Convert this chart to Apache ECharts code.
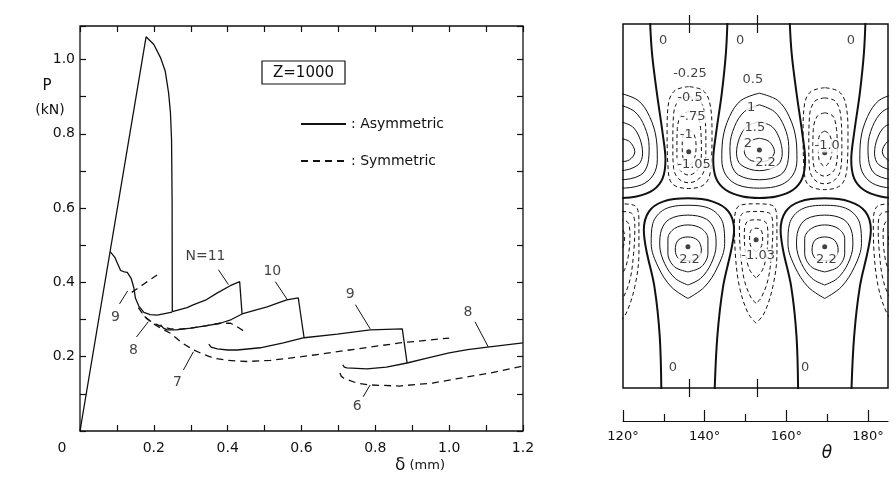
<!DOCTYPE html>
<html>
<head>
<meta charset="utf-8">
<script src="https://cdn.jsdelivr.net/npm/echarts@6/dist/echarts.min.js"></script>
<style>
html,body{margin:0;padding:0;background:#fff;}
#chart{width:896px;height:478px;}
</style>
</head>
<body>
<div id="chart"></div>
<script>
var chart = echarts.init(document.getElementById("chart"));
var INK = "#111";
var FONT = "DejaVu Sans";

// ---------- left panel: P (kN) against delta (mm) ----------
var deltaLabels = [0, 0.2, 0.4, 0.6, 0.8, 1.0, 1.2];
var loadLabels = [0.2, 0.4, 0.6, 0.8, 1.0];

// asymmetric (solid)
var asymPeak = [[0,0],[0.179,1.061],[0.2,1.04],[0.218,1.005],[0.231,0.968],[0.24,0.91],[0.245,0.857],[0.248,0.784],[0.2495,0.62],[0.25,0.321],
    [0.29,0.332],[0.308,0.34],[0.34,0.352],[0.371,0.371],[0.407,0.391],[0.4325,0.402],[0.439,0.315]];
var asymWiggle = [[0.0817,0.483],[0.087,0.481],[0.094,0.468],[0.101,0.452],[0.11,0.432],[0.12,0.428],[0.128,0.427],[0.1385,0.411],
    [0.146,0.385],[0.15,0.358],[0.159,0.337],[0.173,0.319],[0.19,0.313],[0.209,0.312],[0.2495,0.32]];
var asymN10 = [[0.218,0.286],[0.226,0.277],[0.236,0.272],[0.26,0.272],[0.30,0.277],[0.34,0.283],[0.38,0.29],[0.41,0.3],[0.439,0.315],
    [0.475,0.325],[0.507,0.334],[0.535,0.344],[0.56,0.353],[0.5913,0.358],[0.607,0.251]];
var asymN9 = [[0.349,0.234],[0.355,0.226],[0.372,0.221],[0.4,0.218],[0.426,0.218],[0.488,0.224],[0.551,0.237],[0.607,0.251],
    [0.697,0.261],[0.786,0.272],[0.873,0.275],[0.886,0.183]];
var asymN8 = [[0.712,0.178],[0.716,0.172],[0.723,0.17],[0.777,0.167],[0.83,0.172],[0.886,0.183],[0.94,0.196],[1.0,0.21],
    [1.05,0.219],[1.104,0.226],[1.2,0.237]];

// symmetric (dashed)
var symN9 = [[0.14,0.373],[0.175,0.397],[0.209,0.42]];
var symN8 = [[0.158,0.332],[0.168,0.318],[0.18,0.303],[0.197,0.292],[0.217,0.283],[0.245,0.275],[0.27,0.274],[0.30,0.277],
    [0.34,0.283],[0.38,0.29],[0.408,0.29],[0.43,0.278],[0.4525,0.263]];
var symN7 = [[0.175,0.308],[0.2,0.288],[0.222,0.275],[0.245,0.263],[0.275,0.238],[0.308,0.218],[0.335,0.206],[0.362,0.196],
    [0.40,0.19],[0.4525,0.187],[0.515,0.19],[0.60,0.2],[0.73,0.218],[0.866,0.237],[1.0,0.25]];
var symN6 = [[0.704,0.156],[0.708,0.147],[0.715,0.142],[0.75,0.129],[0.785,0.124],[0.865,0.121],[0.955,0.129],[1.0,0.137],
    [1.11,0.156],[1.2,0.175]];

// curve numbers and their leader lines
var curveNotes = [["N=11",0.34,0.469],["10",0.521,0.429],["9",0.732,0.367],["8",1.051,0.318],
    ["7",0.264,0.132],["6",0.751,0.065],["9",0.096,0.307],["8",0.145,0.218]];
var noteLeaders = [[[0.375,0.434],[0.402,0.394]],[[0.529,0.402],[0.562,0.353]],[[0.746,0.34],[0.786,0.275]],
    [[1.07,0.294],[1.106,0.226]],[[0.28,0.164],[0.307,0.213]],[[0.767,0.092],[0.786,0.124]],
    [[0.107,0.342],[0.129,0.377]],[[0.153,0.253],[0.185,0.294]]];

// ---------- right panel: contour map over theta ----------
var thetaLabels = [120, 140, 160, 180];
var thetaMinor = [130, 150, 170];
var frameMarks = [136.2, 152.8];

// lobe centres [theta, depth], depth 0 = top of frame, 100 = bottom
var upperPosCenters = [[119.2,34.6],[153.4,34.6],[187.2,34.6]];
var lowerPosCenters = [[135.9,61.2],[169.4,61.2]];
var upperNegCenters = [[136.1,35.1],[169.4,35.4]];
var lowerNegCenters = [[118.8,59.3],[152.6,59.3],[186.6,59.3]];
var peakDots = [[153.4,34.6],[136.1,35.1],[169.4,35.4],[135.9,61.2],[169.4,61.2],[152.6,59.3]];

// contour outlines read around each lobe centre
var upperPosZero = [[-7.8,-36],[-8.2,-26.6],[-9.2,-15.6],[-10.6,-4.6],[-11.3,2.7],[-10.6,7.8],[-8.2,11],[-4.1,12.8],[0,13.2],
    [4.1,12.8],[8.2,11],[10.5,7.8],[11.2,2.7],[10.5,-4.6],[9.1,-15.6],[7.9,-26.6],[7.4,-36]];
var upperPosLevels = [
    [[0,-15.6],[-4.5,-13.6],[-7.3,-9.2],[-9,-2.7],[-9.2,2.7],[-8.2,6.9],[-5.3,9.6],[0,10.5],[5.3,9.6],[8.2,6.9],[9.2,2.7],[9,-2.7],[7.3,-9.2],[4.5,-13.6],[0,-15.6]],
    [[0,-12.4],[-3.7,-10.5],[-6.1,-6.4],[-7.2,-0.9],[-6.9,3.7],[-5.1,6.9],[0,8.2],[5.1,6.9],[6.9,3.7],[7.2,-0.9],[6.1,-6.4],[3.7,-10.5],[0,-12.4]],
    [[0,-7.8],[-3.1,-6.4],[-4.9,-3.2],[-5.6,0.9],[-4.5,4.1],[0,5.7],[4.5,4.1],[5.6,0.9],[4.9,-3.2],[3.1,-6.4],[0,-7.8]],
    [[0,-3.2],[-2.4,-2.3],[-3.7,0.5],[-2.4,2.7],[0,3.2],[2.4,2.7],[3.7,0.5],[2.4,-2.3],[0,-3.2]]
];
var lowerPosZero = [[-6.5,41],[-6.9,24.7],[-8.2,11],[-10.2,0.9],[-10.8,-4.6],[-9.6,-9.6],[-6.1,-12.4],[0,-13.3],[6.1,-12.4],
    [10,-9.6],[11.3,-4.6],[10.6,0.9],[8.6,11],[7.2,24.7],[6.5,41]];
var lowerPosLevels = [
    [[0,14.2],[-4.1,11],[-7.3,5.5],[-9,-0.9],[-8.6,-6.4],[-5.7,-10.3],[0,-11.4],[5.7,-10.3],[8.6,-6.4],[9,-0.9],[7.3,5.5],[4.1,11],[0,14.2]],
    [[0,10.5],[-3.1,8.7],[-5.7,4.6],[-6.9,-0.5],[-6.5,-4.6],[-4.5,-7.6],[0,-8.7],[4.5,-7.6],[6.5,-4.6],[6.9,-0.5],[5.7,4.6],[3.1,8.7],[0,10.5]],
    [[0,6.9],[-3.3,5.5],[-4.9,1.8],[-4.9,-2.3],[-3.3,-5],[0,-6],[3.3,-5],[4.9,-2.3],[4.9,1.8],[3.3,5.5],[0,6.9]],
    [[0,3.8],[-2.3,3.2],[-3.1,0.9],[-2.4,-1.8],[0,-2.7],[2.4,-1.8],[3.3,0.9],[2.3,3.2],[0,3.8]]
];
var upperNegLevels = [
    [[0,-17.9],[-3.3,-16.9],[-4.9,-13.7],[-5.3,-5.5],[-5.1,3.7],[-4.1,8.7],[0,10.1],[4.1,8.7],[5.5,3.7],[5.7,-5.5],[5.1,-13.7],[3.4,-16.9],[0,-17.9]],
    [[0,-15.1],[-2.4,-14.2],[-3.7,-10.5],[-3.9,-1.8],[-3.7,4.6],[-2.4,7.5],[0,8.5],[2.4,7.5],[3.9,4.6],[4.2,-1.8],[3.9,-10.5],[2.6,-14.2],[0,-15.1]],
    [[0,-11],[-1.8,-10.1],[-2.8,-6.4],[-2.9,0],[-2.4,4.6],[0,6.4],[2.4,4.6],[3.1,0],[2.9,-6.4],[2,-10.1],[0,-11]],
    [[0,-6],[-1.2,-5],[-1.6,-1.8],[-1.4,1.8],[0,3.7],[1.4,1.8],[1.8,-1.8],[1.2,-5],[0,-6]]
];
var lowerNegLevels = [
    [[0,22.9],[-2,20.1],[-4.1,12.8],[-5.1,3.7],[-5.3,-5.5],[-4.1,-9.4],[0,-9.9],[4.1,-9.4],[5.1,-5.5],[5.1,3.7],[4.1,12.8],[2,20.1],[0,22.9]],
    [[0,17.4],[-1.2,16],[-2.9,11],[-3.8,3.7],[-4.1,-3.7],[-3.3,-7.3],[0,-7.8],[3.3,-7.3],[4.1,-3.7],[3.8,3.7],[2.9,11],[1.2,16],[0,17.4]],
    [[0,10.5],[-1.6,8.2],[-2.6,3.7],[-2.9,-1.8],[-2.2,-5],[0,-5.5],[2.2,-5],[2.9,-1.8],[2.6,3.7],[1.6,8.2],[0,10.5]],
    [[0,3.2],[-1.2,2],[-1.6,-0.5],[-1.2,-2.7],[0,-3.2],[1.2,-2.7],[1.6,-0.5],[1.2,2],[0,3.2]]
];

var contourNotes = [["0",129.8,4.7],["0",148.7,4.7],["0",175.8,4.7],["0",132.2,94.5],["0",164.6,94.5],
    ["-0.25",136.4,13.5],["-0.5",136.4,20.3],["-.75",137.1,25.5],["-1",135.5,30.5],["-1.05",137.4,38.5],
    ["0.5",151.8,15.4],["1",151.4,22.9],["1.5",152.3,28.4],["2",150.6,33],["2.2",154.9,38.1],
    ["-1.0",170.0,33.5],["2.2",136.3,64.6],["-1.03",153.1,63.5],["2.2",169.8,64.6]];

// ---------- styles ----------
var solidStyle = {color: INK, width: 1.3};
var dashStyle = {color: INK, width: 1.3, type: [7, 5]};
var zeroStyle = {color: INK, width: 2};
var thinStyle = {color: INK, width: 1};
var negStyle = {color: INK, width: 1, type: [4, 3]};
var tickStyle = {color: INK, width: 1.2};
var labelText = {color: INK, fontFamily: FONT, fontSize: 14};

function isLabel(list, v) {
    for (var i = 0; i < list.length; i++) {
        if (Math.abs(list[i] - v) < 1e-6) return true;
    }
    return false;
}

function curve(name, data, style) {
    return {name: name, type: "line", xAxisIndex: 0, yAxisIndex: 0, symbol: "none", silent: true,
        itemStyle: {color: INK}, lineStyle: style, data: data};
}

function lobes(centers, shape, style) {
    var out = [];
    centers.forEach(function (c) {
        out.push({type: "line", xAxisIndex: 2, yAxisIndex: 2, symbol: "none", silent: true, smooth: 0.35,
            itemStyle: {color: INK}, lineStyle: style,
            data: shape.map(function (p) { return [c[0] + p[0], c[1] + p[1]]; })});
    });
    return out;
}

var series = [
    curve("Asymmetric", asymPeak, solidStyle),
    curve("Asymmetric", asymWiggle, solidStyle),
    curve("Asymmetric", asymN10, solidStyle),
    curve("Asymmetric", asymN9, solidStyle),
    curve("Asymmetric", asymN8, solidStyle),
    curve("Symmetric", symN9, dashStyle),
    curve("Symmetric", symN8, dashStyle),
    curve("Symmetric", symN7, dashStyle),
    curve("Symmetric", symN6, dashStyle)
];
noteLeaders.forEach(function (seg) {
    series.push({type: "line", xAxisIndex: 0, yAxisIndex: 0, symbol: "none", silent: true,
        itemStyle: {color: INK}, lineStyle: {color: INK, width: 1}, data: seg});
});
series.push({type: "scatter", xAxisIndex: 0, yAxisIndex: 0, symbolSize: 1, silent: true,
    itemStyle: {color: "rgba(0,0,0,0)"},
    label: {show: true, position: "inside", formatter: "{b}", color: INK, fontFamily: FONT, fontSize: 14},
    data: curveNotes.map(function (n) { return {name: n[0], value: [n[1], n[2]]}; })});

series = series.concat(lobes(upperPosCenters, upperPosZero, zeroStyle));
series = series.concat(lobes(lowerPosCenters, lowerPosZero, zeroStyle));
upperPosLevels.forEach(function (s) { series = series.concat(lobes(upperPosCenters, s, thinStyle)); });
lowerPosLevels.forEach(function (s) { series = series.concat(lobes(lowerPosCenters, s, thinStyle)); });
upperNegLevels.forEach(function (s) { series = series.concat(lobes(upperNegCenters, s, negStyle)); });
lowerNegLevels.forEach(function (s) { series = series.concat(lobes(lowerNegCenters, s, negStyle)); });

series.push({type: "scatter", xAxisIndex: 2, yAxisIndex: 2, symbolSize: 5, silent: true,
    itemStyle: {color: INK}, data: peakDots});
series.push({type: "scatter", xAxisIndex: 2, yAxisIndex: 2, symbolSize: 1, silent: true, z: 10,
    itemStyle: {color: "rgba(0,0,0,0)"},
    label: {show: true, position: "inside", formatter: "{b}", color: INK, fontFamily: FONT, fontSize: 13,
        backgroundColor: "#fff", padding: [0, 1]},
    data: contourNotes.map(function (n) { return {name: n[0], value: [n[1], n[2]]}; })});

function frameAxis(pos, inside) {
    return {type: "value", gridIndex: 1, position: pos, min: 120, max: 184.9,
        axisLine: {show: false}, splitLine: {show: false}, axisLabel: {show: false},
        axisTick: {show: true, inside: inside, length: 9, customValues: frameMarks, lineStyle: tickStyle}};
}

option = {
    backgroundColor: "#fff",
    animation: false,
    grid: [
        {left: 80, top: 26, width: 443, height: 405, show: true, borderColor: INK, borderWidth: 1.3, backgroundColor: "transparent"},
        {left: 623, top: 24, width: 265, height: 364, show: true, borderColor: INK, borderWidth: 1.5, backgroundColor: "transparent"},
        {left: 623, top: 420, width: 265, height: 1}
    ],
    legend: {
        data: ["Asymmetric", "Symmetric"],
        orient: "vertical", left: 295, top: 112,
        itemWidth: 45, itemHeight: 14, itemGap: 23,
        selectedMode: false,
        itemStyle: {opacity: 0},
        formatter: function (name) { return ": " + name; },
        textStyle: labelText
    },
    xAxis: [
        {type: "value", gridIndex: 0, position: "bottom", min: 0, max: 1.2, interval: 0.1,
            axisLine: {show: false, onZero: false}, splitLine: {show: false},
            axisTick: {show: true, inside: true, length: 6, lineStyle: tickStyle},
            axisLabel: {margin: 10, color: INK, fontFamily: FONT, fontSize: 14,
                formatter: function (v) {
                    var r = Math.round(v * 10) / 10;
                    if (!isLabel(deltaLabels, r)) return "";
                    if (r === 0) return "{z|0}";
                    return r.toFixed(1);
                },
                rich: {z: {padding: [0, 36, 0, 0], color: INK, fontFamily: FONT, fontSize: 14}}}},
        {type: "value", gridIndex: 0, position: "top", min: 0, max: 1.2, interval: 0.1,
            axisLine: {show: false, onZero: false}, splitLine: {show: false}, axisLabel: {show: false},
            axisTick: {show: true, inside: true, length: 6, lineStyle: tickStyle}},
        frameAxis("top", false),
        frameAxis("top", true),
        frameAxis("bottom", false),
        frameAxis("bottom", true),
        {type: "value", gridIndex: 2, position: "bottom", min: 120, max: 184.9,
            axisLine: {show: true, onZero: false, lineStyle: tickStyle}, splitLine: {show: false},
            axisTick: {show: true, inside: true, length: 11, customValues: thetaLabels, lineStyle: tickStyle},
            axisLabel: {customValues: thetaLabels, margin: 9, color: INK, fontFamily: FONT, fontSize: 13,
                formatter: function (v) { return v + "°"; }}},
        {type: "value", gridIndex: 2, position: "bottom", min: 120, max: 184.9,
            axisLine: {show: false}, splitLine: {show: false}, axisLabel: {show: false},
            axisTick: {show: true, inside: true, length: 7, customValues: thetaMinor, lineStyle: tickStyle}}
    ],
    yAxis: [
        {type: "value", gridIndex: 0, position: "left", min: 0, max: 1.09, interval: 0.1,
            axisLine: {show: false, onZero: false}, splitLine: {show: false},
            axisTick: {show: true, inside: true, length: 6, lineStyle: tickStyle},
            axisLabel: {margin: 5, color: INK, fontFamily: FONT, fontSize: 14,
                formatter: function (v) {
                    var r = Math.round(v * 10) / 10;
                    return isLabel(loadLabels, r) && Math.abs(r - v) < 1e-6 ? r.toFixed(1) : "";
                }}},
        {type: "value", gridIndex: 0, position: "right", min: 0, max: 1.09, interval: 0.1,
            axisLine: {show: false, onZero: false}, splitLine: {show: false}, axisLabel: {show: false},
            axisTick: {show: true, inside: true, length: 6, lineStyle: tickStyle}},
        {type: "value", gridIndex: 1, min: 0, max: 100, inverse: true, show: false},
        {type: "value", gridIndex: 2, min: 0, max: 1, show: false}
    ],
    graphic: [
        {type: "rect", shape: {x: 262, y: 61, width: 83, height: 23}, style: {fill: "none", stroke: INK, lineWidth: 1.2}},
        {type: "text", x: 303.5, y: 73, style: {text: "Z=1000", fontFamily: FONT, fontSize: 15, fill: INK, align: "center", verticalAlign: "middle"}},
        {type: "text", x: 47, y: 86, style: {text: "P", fontFamily: FONT, fontSize: 15, fill: INK, align: "center", verticalAlign: "middle"}},
        {type: "text", x: 50, y: 110, style: {text: "(kN)", fontFamily: FONT, fontSize: 14, fill: INK, align: "center", verticalAlign: "middle"}},
        {type: "text", x: 420, y: 466, style: {text: "{d|δ} (mm)", fontFamily: FONT, fontSize: 13, fill: INK, align: "center", verticalAlign: "middle",
            rich: {d: {fontFamily: FONT, fontSize: 17, fill: INK}}}},
        {type: "text", x: 827, y: 454, style: {text: "θ", fontFamily: FONT, fontSize: 17, fontStyle: "italic", fill: INK, align: "center", verticalAlign: "middle"}}
    ],
    series: series
};
chart.setOption(option);
</script>
</body>
</html>
